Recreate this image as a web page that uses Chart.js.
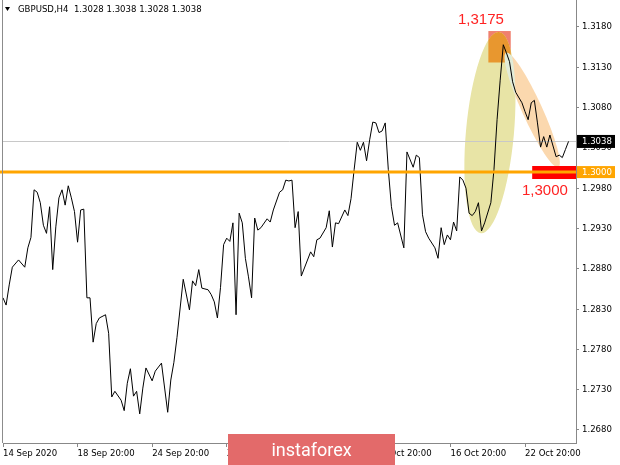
<!DOCTYPE html>
<html><head><meta charset="utf-8">
<script src="https://cdn.jsdelivr.net/npm/chart.js@4.4.1/dist/chart.umd.min.js"></script>
<style>html,body{margin:0;padding:0;background:#fff;overflow:hidden}canvas{display:block}</style>
</head><body>
<canvas id="c" width="620" height="465"></canvas>
<script>
// ---- data (GBPUSD H4 close) ----
const barIndex = [0,1,2,3,5,7,8,9,10,11,12,13,14,15,16,17,18,19,20,21,22,23,24,25,26,27,28,29,30,31,33,34,35,36,38,39,40,41,42,43,44,45,46,48,49,51,53,54,55,56,58,60,61,62,63,64,66,67,68,69,70,71,72,73,74,75,76,77,78,79,80,81,82,83,85,86,87,89,90,91,92,93,94,95,96,97,99,100,101,102,104,105,106,107,108,110,111,112,113,114,115,116,117,118,119,120,121,122,123,124,125,126,127,129,130,132,133,134,135,136,137,139,140,141,142,143,144,145,146,147,148,149,150,151,152,153,154,155,157,158,159,160,161,162,163,164,165,167,168,169,170,171,172,173,174,175,176,178,179,180,181,182];
const closes = [1.2844,1.2835,1.2860,1.2882,1.2891,1.2882,1.2906,1.2919,1.2978,1.2975,1.2962,1.2934,1.2924,1.2957,1.2879,1.2932,1.2968,1.2978,1.2959,1.2983,1.2968,1.2951,1.2913,1.2953,1.2954,1.2844,1.2844,1.2789,1.2812,1.2819,1.2823,1.2800,1.2721,1.2728,1.2717,1.2704,1.2738,1.2756,1.2722,1.2728,1.2700,1.2732,1.2757,1.2741,1.2753,1.2763,1.2702,1.2742,1.2764,1.2795,1.2867,1.2829,1.2865,1.2859,1.2879,1.2856,1.2854,1.2848,1.2839,1.2819,1.2857,1.2910,1.2918,1.2914,1.2937,1.2823,1.2949,1.2937,1.2893,1.2870,1.2844,1.2943,1.2928,1.2931,1.2942,1.2938,1.2953,1.2975,1.2978,1.2990,1.2989,1.2990,1.2931,1.2951,1.2871,1.2881,1.2901,1.2895,1.2916,1.2918,1.2931,1.2952,1.2907,1.2937,1.2936,1.2953,1.2946,1.2967,1.3003,1.3037,1.3027,1.3037,1.3014,1.3040,1.3062,1.3061,1.3049,1.3051,1.3061,1.3003,1.2957,1.2934,1.2937,1.2906,1.3025,1.3006,1.3021,1.3018,1.2947,1.2926,1.2918,1.2906,1.2893,1.2931,1.2910,1.2922,1.2916,1.2938,1.2927,1.2994,1.2990,1.2980,1.2949,1.2946,1.2951,1.2962,1.2927,1.2937,1.2962,1.3003,1.3065,1.3114,1.3158,1.3148,1.3137,1.3112,1.3099,1.3086,1.3075,1.3065,1.3086,1.3089,1.3061,1.3031,1.3044,1.3031,1.3046,1.3019,1.3021,1.3018,1.3028,1.3038];
const xTickBars = [0,24,48,72,96,120,144,168];
const xTickLabels = ['14 Sep 2020','18 Sep 20:00','24 Sep 20:00','30 Sep 20:00','6 Oct 20:00','12 Oct 20:00','16 Oct 20:00','22 Oct 20:00'];
const yTicks = [1.2680,1.2730,1.2780,1.2830,1.2880,1.2930,1.2980,1.3030,1.3080,1.3130,1.3180];
const lastPrice = 1.3038;
const levelPrice = 1.3000;
const peakLabel = '1,3175';
const levelLabel = '1,3000';
const titleText = 'GBPUSD,H4  1.3028 1.3038 1.3028 1.3038';
const bannerText = 'instaforex';

// ---- drawing objects (in chart units) ----
const peakBox = {b0:156.2, b1:163.4, p0:1.3175, p1:1.3136};
const rallyEllipse = {b:156.7, p:1.3049, rx:24, ry:101, rot:0.09};
const fallBand = {b:170.3, p:1.3077, rx:63, ry:10, rot:1.143};
const levelRect = {b0:170.3, b1:184.4, p0:1.30075, p1:1.29914};

const FONT = "'DejaVu Sans Condensed','DejaVu Sans',sans-serif";
const points = barIndex.map((b,i)=>({x:b,y:closes[i]}));

function ellipsePath(ctx,xs,ys,e){
  ctx.beginPath();
  ctx.ellipse(xs.getPixelForValue(e.b), ys.getPixelForValue(e.p), e.rx, e.ry, e.rot, 0, Math.PI*2);
}
function rectPath(ctx,xs,ys,r){
  const x0=xs.getPixelForValue(r.b0), x1=xs.getPixelForValue(r.b1);
  const y0=ys.getPixelForValue(r.p0), y1=ys.getPixelForValue(r.p1);
  ctx.beginPath(); ctx.rect(x0,y0,x1-x0,y1-y0);
}

const overlay = {
  id:'overlay',
  beforeDatasetsDraw(chart){
    const ctx=chart.ctx, xs=chart.scales.x, ys=chart.scales.y, ca=chart.chartArea;
    ctx.save();
    rectPath(ctx,xs,ys,peakBox); ctx.fillStyle='#f0806e'; ctx.fill();
    ellipsePath(ctx,xs,ys,rallyEllipse); ctx.fillStyle='#e8e4a6'; ctx.fill();
    ellipsePath(ctx,xs,ys,fallBand); ctx.fillStyle='#fbd8ae'; ctx.fill();
    ctx.save();
    ellipsePath(ctx,xs,ys,rallyEllipse); ctx.clip();
    rectPath(ctx,xs,ys,peakBox); ctx.fillStyle='#e8972f'; ctx.fill();
    ellipsePath(ctx,xs,ys,fallBand); ctx.fillStyle='#e2ecd8'; ctx.fill();
    ctx.restore();
    // last price line
    const yl=Math.round(ys.getPixelForValue(lastPrice))+0.5;
    ctx.strokeStyle='#c8c8c8'; ctx.lineWidth=1;
    ctx.beginPath(); ctx.moveTo(ca.left,yl); ctx.lineTo(ca.right,yl); ctx.stroke();
    ctx.restore();
  },
  afterDraw(chart){
    const ctx=chart.ctx, xs=chart.scales.x, ys=chart.scales.y, ca=chart.chartArea;
    ctx.save();
    // red level rect
    rectPath(ctx,xs,ys,levelRect); ctx.fillStyle='#ff0000'; ctx.fill();
    // orange level line
    const yo=ys.getPixelForValue(levelPrice);
    ctx.strokeStyle='#ffa500'; ctx.lineWidth=3;
    ctx.beginPath(); ctx.moveTo(0,yo); ctx.lineTo(ca.right,yo); ctx.stroke();
    // left frame
    ctx.strokeStyle='#8c8c8c'; ctx.lineWidth=1;
    ctx.beginPath(); ctx.moveTo(ca.left-0.5,0); ctx.lineTo(ca.left-0.5,ca.bottom); ctx.stroke();
    // price boxes
    ctx.font='9.5px '+FONT; ctx.textBaseline='middle'; ctx.textAlign='left';
    const yl=ys.getPixelForValue(lastPrice);
    ctx.fillStyle='#000'; ctx.fillRect(ca.right+1, yl-6.5, 38, 13);
    ctx.fillStyle='#fff'; ctx.fillText(lastPrice.toFixed(4), ca.right+6, yl);
    ctx.fillStyle='#ffa500'; ctx.fillRect(ca.right+1, yo-6, 38, 12);
    ctx.fillStyle='#fff'; ctx.fillText(levelPrice.toFixed(4), ca.right+6, yo);
    // title
    ctx.fillStyle='#000';
    ctx.beginPath(); ctx.moveTo(5,7); ctx.lineTo(10,7); ctx.lineTo(7.5,11); ctx.closePath(); ctx.fill();
    ctx.fillText(titleText, 18, 9.5);
    // red labels
    ctx.fillStyle='#ff2222'; ctx.font='15px "Liberation Sans",Arial,sans-serif'; ctx.textAlign='center';
    ctx.fillText(peakLabel, xs.getPixelForValue(153.8), ys.getPixelForValue(peakBox.p0)-11);
    ctx.fillText(levelLabel, xs.getPixelForValue(174.4), yo+19);
    // banner
    ctx.fillStyle='#e36a6a'; ctx.fillRect(228,434,167,31);
    ctx.fillStyle='#fff'; ctx.font='18px Roboto,sans-serif'; ctx.textBaseline='alphabetic';
    ctx.fillText(bannerText, 311.5, 456);
    ctx.restore();
  }
};

Chart.defaults.font.family = FONT;
Chart.defaults.font.size = 9.5;
Chart.defaults.color = '#000';

new Chart(document.getElementById('c'), {
  type:'line',
  data:{datasets:[{data:points, borderColor:'#000', borderWidth:1, pointRadius:0, tension:0, fill:false}]},
  options:{
    responsive:false, animation:false, devicePixelRatio:1,
    layout:{padding:{left:3,right:0,top:0,bottom:0}},
    plugins:{legend:{display:false}, tooltip:{enabled:false}},
    scales:{
      x:{type:'linear', position:'bottom', min:0, max:184.4,
        afterBuildTicks(s){ s.ticks = xTickBars.map(v=>({value:v})); },
        afterFit(s){ s.height=22; s.paddingLeft=0; s.paddingRight=0; },
        ticks:{align:'start', padding:1, maxRotation:0, autoSkip:false, color:'#000',
          callback(v){ const i=xTickBars.indexOf(v); return i>=0?xTickLabels[i]:''; }},
        grid:{drawOnChartArea:false, drawTicks:true, tickLength:4, color:'#888'},
        border:{display:true, color:'#888', width:1}
      },
      y:{type:'linear', position:'right', min:1.2680-(443-430)/8060, max:1.3180+27/8060,
        afterBuildTicks(s){ s.ticks = yTicks.map(v=>({value:v})); },
        afterFit(s){ s.width=44; s.paddingTop=0; s.paddingBottom=0; },
        ticks:{padding:3, color:'#000', callback(v){ return Number(v).toFixed(4); }},
        grid:{drawOnChartArea:false, drawTicks:true, tickLength:3, color:'#888'},
        border:{display:true, color:'#888', width:1}
      }
    }
  },
  plugins:[overlay]
});
</script>
</body></html>
